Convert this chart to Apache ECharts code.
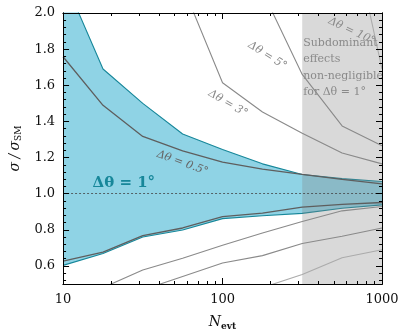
<!DOCTYPE html>
<html>
<head>
<meta charset="utf-8">
<script src="https://cdn.jsdelivr.net/npm/echarts@6/dist/echarts.min.js"></script>
<style>
  html, body { margin: 0; padding: 0; background: #fff; }
  #chart { width: 408px; height: 336px; }
</style>
</head>
<body>
<div id="chart"></div>
<script>
// number of events sampled
const nEvt = [10, 17.8, 31.6, 56.2, 100, 178, 316, 562, 1000];

// delta theta = 1 deg band
const band1Upper = [2.2, 1.69, 1.50, 1.33, 1.245, 1.165, 1.106, 1.083, 1.067];
const band1Lower = [0.603, 0.669, 0.76, 0.799, 0.862, 0.878, 0.891, 0.919, 0.938];

// other resolutions
const d05Upper = [1.758, 1.489, 1.317, 1.237, 1.175, 1.136, 1.107, 1.079, 1.054];
const d05Lower = [0.626, 0.676, 0.768, 0.81, 0.873, 0.892, 0.925, 0.941, 0.951];
const d3Upper = [null, null, null, 2.15, 1.614, 1.452, 1.335, 1.225, 1.165];
const d3Lower = [null, 0.48, 0.577, 0.643, 0.715, 0.782, 0.846, 0.905, 0.929];
const d5Upper = [null, null, null, null, null, 2.12, 1.66, 1.375, 1.265];
const d5Lower = [null, null, 0.467, 0.542, 0.616, 0.657, 0.724, 0.764, 0.81];
const d10Upper = [null, null, null, null, null, null, null, 2.7, 1.69];
const d10Lower = [null, null, null, null, null, 0.48, 0.553, 0.645, 0.69];

const subdominantFrom = 316;
const yTickLabels = [0.6, 0.8, 1.0, 1.2, 1.4, 1.6, 1.8, 2.0];
const xMinorTicks = [20, 30, 40, 50, 60, 70, 80, 90, 200, 300, 400, 500, 600, 700, 800, 900];

const FONT = 'DejaVu Serif';
const TEAL = '#17879a';
const FILL = '#8fd3e5';

const yMinorTicks = [];
for (let k = 13; k <= 49; k++) yMinorTicks.push(+(k * 0.04).toFixed(2));

function pairs(values) {
  return nEvt.map((n, i) => [n, values[i]]).filter((p) => p[1] != null);
}

function grayLine(values, color, width) {
  return {
    type: 'line', data: pairs(values), symbol: 'none', z: 4, silent: true,
    lineStyle: { color, width },
  };
}

function xAxisDef(pos, minor, showLabel) {
  return {
    type: 'log', logBase: 10, min: 10, max: 1000, position: pos, z: 12,
    axisLine: { show: true, onZero: false, lineStyle: { color: '#000', width: 1 } },
    axisTick: {
      show: true, inside: true, length: minor ? 3 : 6,
      lineStyle: { color: '#000', width: 1 },
      customValues: minor ? xMinorTicks : [10, 100, 1000],
    },
    axisLabel: {
      show: showLabel, fontFamily: FONT, fontSize: 13, color: '#111', margin: 9,
      formatter: (v) => String(Math.round(v)),
    },
    splitLine: { show: false },
  };
}

function yAxisDef(pos, minor, showLabel) {
  return {
    type: 'value', min: 0.5, max: 2.0, position: pos, z: 12,
    axisLine: { show: true, onZero: false, lineStyle: { color: '#000', width: 1 } },
    axisTick: {
      show: true, inside: true, length: minor ? 3 : 6,
      lineStyle: { color: '#000', width: 1 },
      customValues: minor ? yMinorTicks : yTickLabels,
    },
    axisLabel: {
      show: showLabel, fontFamily: FONT, fontSize: 13, color: '#111', margin: 8,
      customValues: yTickLabels, formatter: (v) => v.toFixed(1),
    },
    splitLine: { show: false },
  };
}

const chart = echarts.init(document.getElementById('chart'));

const xAxes = [xAxisDef('bottom', false, true), xAxisDef('bottom', true, false), xAxisDef('top', false, false), xAxisDef('top', true, false)];
xAxes[0].name = '{n|N}{s|evt}';
xAxes[0].nameLocation = 'middle';
xAxes[0].nameGap = 30;
xAxes[0].nameTextStyle = {
  rich: {
    n: { fontFamily: FONT, fontStyle: 'italic', fontSize: 14, color: '#111' },
    s: { fontFamily: FONT, fontWeight: 'bold', fontSize: 9, color: '#111', padding: [8, 0, 0, 0] },
  },
};

const yAxes = [yAxisDef('left', false, true), yAxisDef('left', true, false), yAxisDef('right', false, false), yAxisDef('right', true, false)];
yAxes[0].name = '{i|σ} {i|/} {i|σ}{s|SM}';
yAxes[0].nameLocation = 'middle';
yAxes[0].nameGap = 37;
yAxes[0].nameRotate = 90;
yAxes[0].nameTextStyle = {
  rich: {
    i: { fontFamily: FONT, fontStyle: 'italic', fontSize: 14, color: '#111' },
    s: { fontFamily: FONT, fontSize: 9, color: '#111', padding: [8, 0, 0, 0] },
  },
};

chart.setOption({
  animation: false,
  grid: { left: 58, right: 26, top: 13, bottom: 50 },
  xAxis: xAxes,
  yAxis: yAxes,
  series: [
    {
      // band top: fill down to the axis floor
      type: 'line', data: pairs(band1Upper), symbol: 'none', z: 1, silent: true,
      lineStyle: { color: TEAL, width: 1.1 },
      areaStyle: { color: FILL, opacity: 1, origin: 'start' },
    },
    {
      // band bottom: blank out below it
      type: 'line', data: pairs(band1Lower), symbol: 'none', z: 2, silent: true,
      lineStyle: { color: TEAL, width: 1.1 },
      areaStyle: { color: '#fff', opacity: 1, origin: 'start' },
    },
    {
      type: 'line', data: pairs(d05Upper), symbol: 'none', z: 3, silent: true,
      lineStyle: { opacity: 0 },
      markArea: {
        silent: true, z: 3,
        itemStyle: { color: 'rgba(128,128,128,0.3)' },
        data: [[{ xAxis: subdominantFrom, yAxis: 0.5 }, { xAxis: 1000, yAxis: 2.0 }]],
      },
      markLine: {
        silent: true, z: 5, symbol: 'none', label: { show: false },
        lineStyle: { color: '#444', width: 0.8, type: [2, 2] },
        data: [{ yAxis: 1.0 }],
      },
    },
    grayLine(d05Upper, '#5e5e5e', 1.3),
    grayLine(d05Lower, '#5e5e5e', 1.3),
    grayLine(d3Upper, '#8a8a8a', 1.1),
    grayLine(d3Lower, '#8a8a8a', 1.1),
    grayLine(d5Upper, '#8a8a8a', 1.1),
    grayLine(d5Lower, '#8a8a8a', 1.1),
    grayLine(d10Upper, '#ababab', 1.1),
    grayLine(d10Lower, '#ababab', 1.1),
  ],
});

// annotations anchored in data space
const notes = [
  { at: [15.3, 1.06], text: 'Δθ = 1°', rot: 0, size: 15, color: TEAL, bold: true, align: 'left' },
  { at: [56, 1.17], text: 'Δθ = 0.5°', rot: -20, size: 11, color: '#666' },
  { at: [108, 1.5], text: 'Δθ = 3°', rot: -30, size: 11, color: '#8a8a8a' },
  { at: [191, 1.765], text: 'Δθ = 5°', rot: -32, size: 11, color: '#8a8a8a' },
  { at: [645, 1.9], text: 'Δθ = 10°', rot: -25, size: 11, color: '#8a8a8a' },
];

const graphics = notes.map((n) => {
  const p = chart.convertToPixel({ xAxisIndex: 0, yAxisIndex: 0 }, n.at);
  return {
    type: 'text', x: p[0], y: p[1], rotation: n.rot * Math.PI / 180, z: 10, silent: true,
    style: {
      text: n.text, fill: n.color, fontFamily: FONT, fontSize: n.size,
      fontStyle: n.bold ? 'normal' : 'italic', fontWeight: n.bold ? 'bold' : 'normal',
      align: n.align || 'center', verticalAlign: 'middle',
    },
  };
});

const sp = chart.convertToPixel({ xAxisIndex: 0, yAxisIndex: 0 }, [subdominantFrom, 2.0]);
graphics.push({
  type: 'text', x: sp[0] + 1, y: sp[1] + 22, z: 10, silent: true,
  style: {
    text: 'Subdominant\neffects\nnon-negligible\nfor Δθ = 1°',
    fill: '#8a8a8a', fontFamily: FONT, fontSize: 11, lineHeight: 16.3,
    align: 'left', verticalAlign: 'top',
  },
});

chart.setOption({ graphic: graphics });
</script>
</body>
</html>
